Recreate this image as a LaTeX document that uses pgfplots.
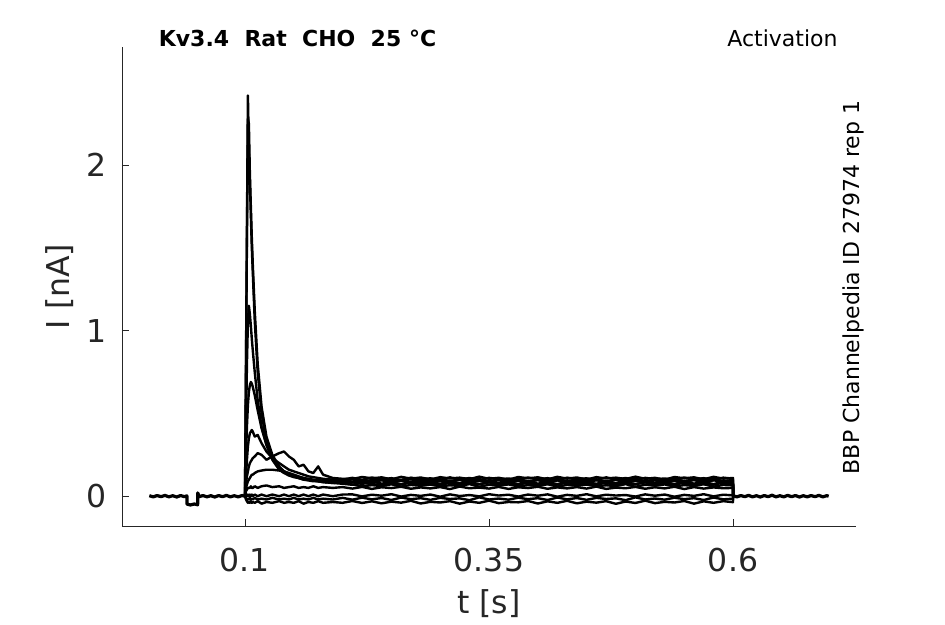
\documentclass[border=0pt]{standalone}
\usepackage{fontspec}
\setmainfont{DejaVu Sans}
\usepackage{pgfplots}
\usepackage{pgfplotstable}
\pgfplotsset{compat=1.18}
\definecolor{axgray}{RGB}{38,38,38}

\pgfplotstableread{
x A B C D E F G H I J K
0.1 0 0 0 0 0 0 0 0 0 0 0
0.101 0.80 0.75 0.40 0.25 0.12 0.08 0.05 0.03 0.01 -0.01 -0.02
0.102 1.62 1.55 0.80 0.42 0.22 0.12 0.07 0.04 0.00 -0.02 -0.03
0.103 2.42 2.28 1.05 0.55 0.30 0.15 0.09 0.05 0.01 -0.015 -0.04
0.104 2.10 2.25 1.15 0.63 0.35 0.18 0.10 0.05 0.00 -0.02 -0.035
0.105 1.90 1.95 1.10 0.67 0.38 0.20 0.11 0.05 0.01 -0.01 -0.04
0.106 1.70 1.75 1.03 0.69 0.39 0.21 0.12 0.06 0.00 -0.02 -0.03
0.107 1.50 1.56 0.95 0.68 0.40 0.22 0.13 0.05 0.01 -0.015 -0.04
0.108 1.35 1.40 0.88 0.66 0.39 0.23 0.13 0.05 0.00 -0.02 -0.035
0.110 1.06 1.12 0.75 0.61 0.36 0.24 0.14 0.06 0.01 -0.01 -0.04
0.113 0.75 0.80 0.58 0.52 0.37 0.26 0.15 0.05 0.00 -0.02 -0.03
0.117 0.50 0.54 0.42 0.41 0.32 0.25 0.155 0.06 0.01 -0.015 -0.045
0.122 0.33 0.36 0.31 0.31 0.27 0.22 0.16 0.065 0.00 -0.02 -0.035
0.128 0.23 0.25 0.22 0.23 0.23 0.24 0.16 0.055 0.01 -0.01 -0.04
0.135 0.17 0.18 0.16 0.17 0.20 0.26 0.155 0.06 0.00 -0.02 -0.03
0.140 0.145 0.15 0.14 0.15 0.18 0.27 0.15 0.05 0.01 -0.015 -0.04
0.145 0.13 0.135 0.125 0.13 0.16 0.24 0.14 0.055 0.00 -0.02 -0.035
0.150 0.12 0.12 0.115 0.12 0.15 0.22 0.13 0.06 0.01 -0.01 -0.04
0.155 0.11 0.115 0.11 0.11 0.14 0.18 0.12 0.05 0.00 -0.02 -0.03
0.160 0.10 0.11 0.10 0.105 0.13 0.19 0.11 0.055 0.01 -0.015 -0.045
0.165 0.095 0.10 0.10 0.10 0.12 0.15 0.105 0.05 0.00 -0.02 -0.035
0.170 0.09 0.095 0.095 0.095 0.115 0.14 0.10 0.06 0.01 -0.01 -0.04
0.175 0.09 0.10 0.09 0.09 0.11 0.18 0.095 0.05 0.00 -0.02 -0.03
0.180 0.085 0.09 0.095 0.085 0.105 0.13 0.09 0.055 0.01 -0.015 -0.04
0.190 0.08 0.095 0.09 0.08 0.10 0.11 0.085 0.05 0.00 -0.02 -0.035
0.200 0.085 0.09 0.095 0.075 0.10 0.105 0.08 0.055 0.01 -0.01 -0.04
0.21 .086 .084 .101 .069 .111 .104 .071 .046 .011 -.021 -.029
0.22 .074 .095 .089 .081 .099 .116 .059 .056 -.001 -.009 -.041
0.23 .088 .086 .097 .073 .113 .108 .067 .044 .009 -.019 -.031
0.24 .076 .096 .103 .067 .101 .114 .061 .054 .003 -.011 -.043
0.25 .084 .083 .091 .079 .109 .102 .072 .049 .012 -.023 -.033
0.26 .073 .094 .099 .071 .097 .117 .058 .057 -.002 -.008 -.039
0.27 .087 .088 .105 .082 .112 .106 .068 .045 .008 -.018 -.028
0.28 .078 .097 .090 .068 .103 .113 .063 .053 .002 -.012 -.044
0.29 .085 .085 .098 .076 .108 .101 .070 .047 .010 -.022 -.034
0.30 .075 .093 .102 .070 .098 .115 .060 .055 -.003 -.010 -.038
0.31 .089 .087 .092 .080 .114 .107 .066 .043 .011 -.017 -.030
0.32 .077 .098 .100 .066 .100 .112 .062 .058 .001 -.013 -.045
0.33 .083 .082 .094 .078 .110 .103 .073 .048 .007 -.024 -.032
0.34 .072 .092 .104 .072 .096 .118 .057 .052 -.001 -.007 -.040
0.35 .086 .089 .088 .083 .111 .105 .069 .046 .012 -.020 -.027
0.36 .079 .096 .101 .069 .102 .111 .064 .056 .004 -.014 -.042
0.37 .084 .084 .095 .077 .107 .100 .071 .044 .009 -.021 -.035
0.38 .074 .094 .103 .071 .099 .116 .059 .054 -.002 -.009 -.037
0.39 .088 .087 .090 .081 .113 .108 .067 .049 .010 -.018 -.029
0.40 .076 .097 .099 .067 .101 .114 .062 .057 .003 -.012 -.044
0.41 .085 .083 .096 .079 .109 .102 .072 .045 .011 -.023 -.031
0.42 .073 .095 .104 .070 .097 .117 .058 .053 -.003 -.008 -.040
0.43 .087 .088 .091 .082 .112 .106 .068 .047 .008 -.019 -.028
0.44 .078 .093 .100 .068 .103 .113 .063 .055 .002 -.011 -.043
0.45 .084 .085 .094 .076 .108 .101 .070 .046 .012 -.022 -.033
0.46 .075 .096 .102 .072 .098 .115 .060 .058 -.001 -.010 -.039
0.47 .089 .086 .089 .080 .114 .107 .066 .044 .009 -.017 -.030
0.48 .077 .098 .101 .066 .100 .112 .061 .052 .004 -.013 -.046
0.49 .083 .082 .093 .078 .110 .104 .073 .048 .007 -.024 -.032
0.50 .072 .092 .105 .073 .096 .118 .057 .056 -.002 -.007 -.041
0.51 .086 .089 .090 .083 .111 .105 .069 .045 .011 -.020 -.027
0.52 .079 .095 .099 .069 .102 .111 .064 .054 .003 -.014 -.042
0.53 .084 .084 .096 .077 .107 .100 .071 .047 .010 -.021 -.034
0.54 .074 .094 .103 .071 .099 .116 .059 .057 -.003 -.009 -.038
0.55 .088 .087 .092 .081 .113 .108 .067 .043 .008 -.018 -.029
0.56 .076 .097 .100 .067 .101 .114 .062 .055 .002 -.012 -.045
0.57 .085 .083 .095 .079 .109 .102 .072 .046 .012 -.023 -.031
0.58 .073 .096 .104 .070 .097 .117 .058 .053 -.001 -.008 -.040
0.59 .087 .088 .091 .082 .112 .106 .068 .048 .009 -.019 -.030
0.600 .080 .092 .098 .074 .106 .110 .065 .050 .005 -.015 -.036
0.6001 0 0 0 0 0 0 0 0 0 0 0
}\traces

\pgfplotstableread{
x y
0.002 0.003
0.006 -0.004
0.010 0.004
0.014 -0.003
0.018 0.005
0.022 -0.004
0.026 0.003
0.030 -0.005
0.034 0.004
0.038 -0.003
0.0405 0.002
0.0406 -0.048
0.044 -0.053
0.048 -0.047
0.0515 -0.052
0.0516 0.020
0.053 -0.003
0.057 0.004
0.061 -0.004
0.065 0.003
0.069 -0.005
0.073 0.004
0.077 -0.003
0.081 0.005
0.085 -0.004
0.089 0.003
0.093 -0.004
0.097 0.004
0.100 0.000
}\prebase

\pgfplotstableread{
x y
0.6001 0.003
0.604 -0.004
0.608 0.004
0.612 -0.003
0.616 0.005
0.620 -0.004
0.624 0.003
0.628 -0.005
0.632 0.004
0.636 -0.003
0.640 0.006
0.644 -0.004
0.648 0.003
0.652 -0.004
0.656 0.005
0.660 -0.003
0.664 0.004
0.668 -0.005
0.672 0.003
0.676 -0.004
0.680 0.004
0.684 -0.003
0.688 0.005
0.692 -0.004
0.696 0.003
0.698 0.000
}\postbase

\tikzset{tr/.style={black, solid, line width=2.4pt, line join=round, mark=none}}

\begin{document}
\begin{tikzpicture}
\begin{axis}[
  name=ax,
  at={(0pt,0pt)}, anchor=south west,
  scale only axis, width=734pt, height=479pt,
  xmin=-0.026, xmax=0.726, ymin=-0.18, ymax=2.713,
  axis x line*=bottom, axis y line*=left,
  axis line style={-, draw=axgray, line width=0.9pt},
  tick align=inside, major tick length=7pt,
  tick style={draw=axgray, line width=0.9pt},
  xtick={0.1,0.35,0.6}, xticklabels={0.1,0.35,0.6},
  ytick={0,1,2}, yticklabels={0,1,2},
  /pgf/number format/assume math mode=true,
  ticklabel style={font=\fontsize{31.5}{36}\selectfont, text=axgray},
  xticklabel style={inner sep=0pt, anchor=north, yshift=-22pt},
  yticklabel style={inner sep=0pt, anchor=east, xshift=-15pt},
  cycle list={{black,solid,line width=2.4pt,mark=none}},
]
\addplot[tr, line width=3.2pt] table[x=x,y=y]{\prebase};
\addplot[tr, line width=3.2pt] table[x=x,y=y]{\postbase};
\addplot[tr] table[x=x,y=K]{\traces};
\addplot[tr] table[x=x,y=J]{\traces};
\addplot[tr] table[x=x,y=I]{\traces};
\addplot[tr] table[x=x,y=H]{\traces};
\addplot[tr] table[x=x,y=G]{\traces};
\addplot[tr] table[x=x,y=F]{\traces};
\addplot[tr] table[x=x,y=E]{\traces};
\addplot[tr] table[x=x,y=D]{\traces};
\addplot[tr] table[x=x,y=C]{\traces};
\addplot[tr] table[x=x,y=B]{\traces};
\addplot[tr] table[x=x,y=A]{\traces};
\end{axis}
\coordinate (O) at ([shift={(-122pt,-98pt)}]ax.south west);
\begin{scope}[shift={(O)}]
\node[rotate=90, anchor=base, font=\fontsize{31.5}{36}\selectfont, text=axgray] at (70pt,337.5pt) {I [nA]};
\node[anchor=base, font=\fontsize{31.5}{36}\selectfont, text=axgray] at (489pt,11pt) {t [s]};
\node[anchor=base, font=\bfseries\fontsize{22}{26}\selectfont] at (297.5pt,577pt) {Kv3.4\ \ Rat\ \ CHO\ \ 25 °C};
\node[anchor=base, font=\fontsize{22}{26}\selectfont] at (782.5pt,577pt) {Activation};
\node[rotate=90, anchor=base, font=\fontsize{22}{26}\selectfont] at (859pt,336.5pt) {BBP Channelpedia ID 27974 rep 1};
\pgfresetboundingbox
\useasboundingbox (0pt,0pt) rectangle (945pt,624pt);
\end{scope}
\end{tikzpicture}
\end{document}
